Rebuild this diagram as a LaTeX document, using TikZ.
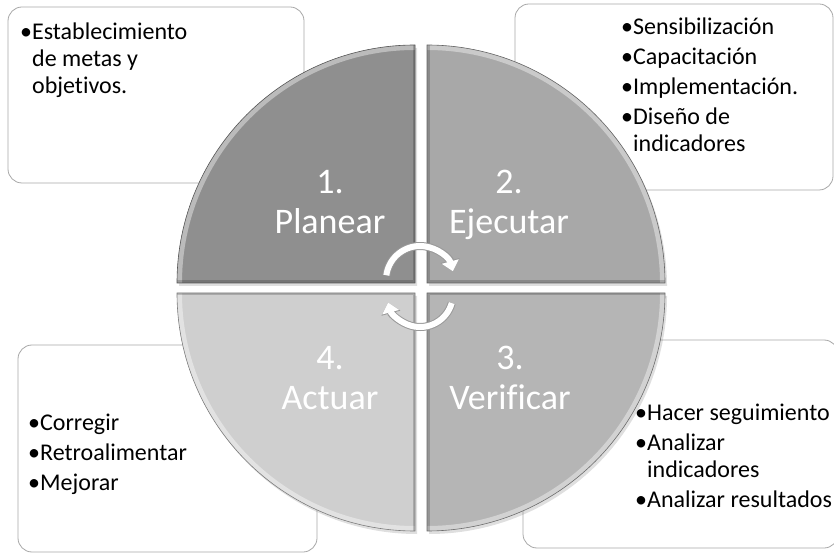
\documentclass[tikz,border=0pt]{standalone}
\usepackage{fontspec}
\setmainfont{Carlito}[Ligatures=CommonOff]
\usetikzlibrary{arrows.meta,positioning,shadows}
\definecolor{boxline}{gray}{0.66}
\definecolor{planearfill}{gray}{0.56}
\definecolor{ejecutarfill}{gray}{0.66}
\definecolor{verificarfill}{gray}{0.71}
\definecolor{actuarfill}{gray}{0.81}
\tikzset{
  notebox/.style={draw=boxline, line width=0.8pt, rounded corners=14pt, fill=white},
  notetext/.style={anchor=base west, inner sep=0pt, align=left, font=\fontsize{24}{27}\selectfont},
  steplabel/.style={anchor=base, inner sep=0pt, align=center, text=white, font=\fontsize{36}{40}\selectfont},
  cyclearrow/.style={line width=6pt, draw=white, -{Triangle[length=10pt,width=17pt]},
    preaction={draw=black!40, line width=8pt, -{Triangle[length=11pt,width=19pt]}}}
}

\begin{document}
\begin{tikzpicture}[x=1pt, y=1pt]
  \useasboundingbox (0,0) rectangle (834,554);
  % note boxes, partly hidden by the circle
  \draw[notebox] (8,547) rectangle (304,371);
  \draw[notebox] (515,550) rectangle (833,364);
  \draw[notebox] (18,209) rectangle (317,2);
  \draw[notebox] (523,214) rectangle (838,6);

  % the four quarters
  \foreach \cx/\cy/\a/\col in {415/271/90/planearfill, 427/271/0/ejecutarfill,
                               427/261/270/verificarfill, 415/261/180/actuarfill}{
    \fill[\col, drop shadow={opacity=0.25, shadow xshift=2pt, shadow yshift=-3pt}]
      (\cx,\cy) -- ++(\a:238) arc[start angle=\a, delta angle=90, radius=238] -- cycle;
    \begin{scope}
      \clip (\cx,\cy) -- ++(\a:238) arc[start angle=\a, delta angle=90, radius=238] -- cycle;
      \draw[line width=10pt, white, opacity=0.4]
        (\cx,\cy) ++(\a:238) arc[start angle=\a, delta angle=90, radius=238];
      \draw[line width=5pt, black, opacity=0.18]
        (\cx,\cy) ++(\a:238) -- (\cx,\cy) -- ++({\a+90}:238);
    \end{scope}
    \draw[\col!60!black, line width=0.6pt]
      (\cx,\cy) -- ++(\a:238) arc[start angle=\a, delta angle=90, radius=238] -- cycle;
  }

  % step labels (anchored on the last line)
  \node[steplabel] (planear) at (330,320) {1.\\Planear};
  \node[steplabel] (ejecutar) at (509,320) {2.\\Ejecutar};
  \node[steplabel] (verificar) at (510,145) {3.\\Verificar};
  \node[steplabel] (actuar) at (330,145) {4.\\Actuar};

  % cycle arrows in the middle
  \coordinate (topc) at (420,274);
  \coordinate (botc) at (420,260);
  \draw[cyclearrow] (topc) ++(172:34) arc[start angle=172, end angle=15, radius=34];
  \draw[cyclearrow] (botc) ++(-16:33) arc[start angle=-16, end angle=-165, radius=33];

  % notes (anchored on the last line)
  \node[notetext] (metas) at (20,460)
    {•Establecimiento\\\phantom{•}de metas y\\\phantom{•}objetivos.};
  \node[notetext] (acciones) at (621,402)
    {•Sensibilización\\[3pt]•Capacitación\\[3pt]•Implementación.\\[3pt]•Diseño de\\\phantom{•}indicadores};
  \node[notetext] (mejoras) at (28,64)
    {•Corregir\\[3pt]•Retroalimentar\\[3pt]•Mejorar};
  \node[notetext] (revision) at (635,47)
    {•Hacer seguimiento\\[3pt]•Analizar\\\phantom{•}indicadores\\[3pt]•Analizar resultados};
\end{tikzpicture}
\end{document}
